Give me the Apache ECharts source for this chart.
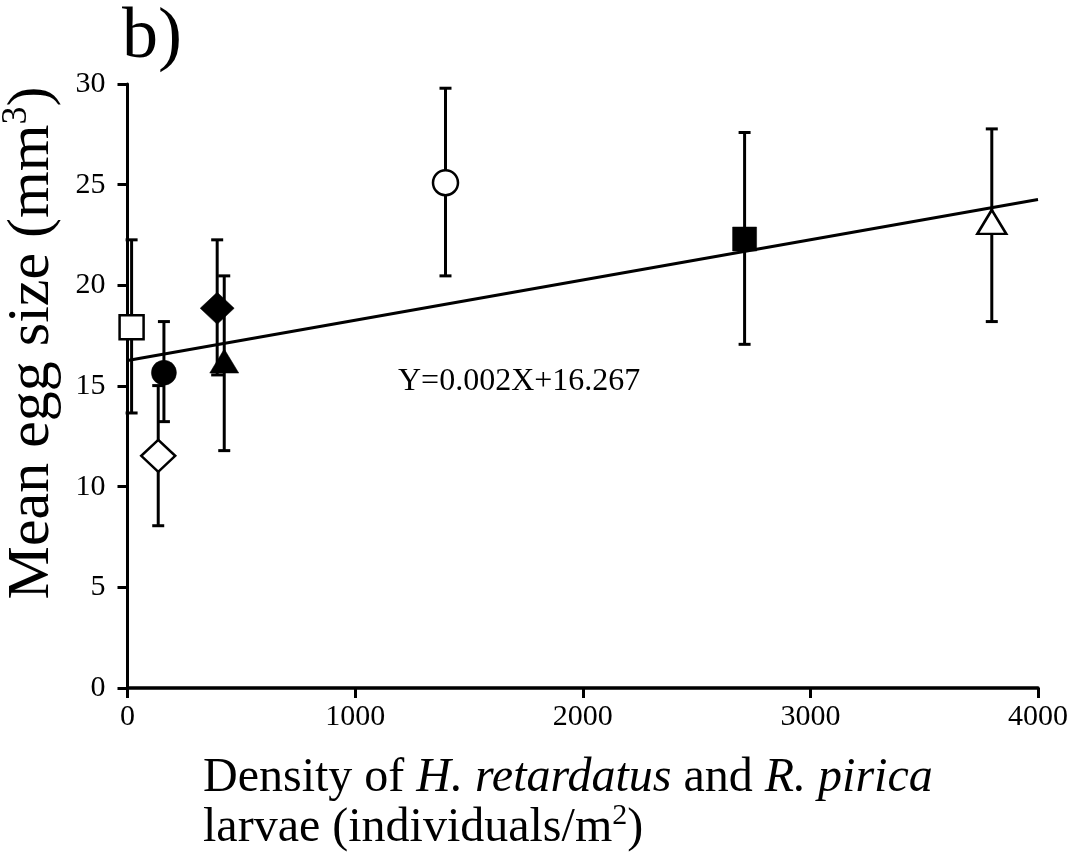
<!DOCTYPE html>
<html><head><meta charset="utf-8">
<script src="https://cdn.jsdelivr.net/npm/echarts@6/dist/echarts.min.js"></script>
<style>html,body{margin:0;padding:0;background:#fff}#c{width:1078px;height:857px}</style>
</head><body><div id="c"></div>
<script>
// ---- data ----
const densities  = [18, 160, 135, 394, 425, 1397, 2711, 3797];
const meanEgg    = [17.92, 15.66, 11.53, 18.86, 16.24, 25.10, 22.30, 23.15];
const errLow     = [13.66, 13.23, 8.06, 15.55, 11.79, 20.47, 17.07, 18.20];
const errHigh    = [22.26, 18.20, 15.02, 22.26, 20.47, 29.79, 27.59, 27.77];
const markerKind = ['rect', 'circle', 'diamond', 'diamond', 'triangle', 'circle', 'rect', 'triangle'];
const markerFill = [false, true, false, true, true, false, true, false];
const trendX = [0, 4000];
const trendY = [16.267, 24.267];
const xTicks = [0, 1000, 2000, 3000, 4000];
const yTicks = [0, 5, 10, 15, 20, 25, 30];
const equationText = 'Y=0.002X+16.267';

// ---- styles ----
const FONT = '"Liberation Serif", "Times New Roman", serif';
const symbolSizes = { rect: 24, circle: 25, diamond: [34, 32], triangle: [29, 24] };

const chart = echarts.init(document.getElementById('c'), null, { renderer: 'canvas' });

const scatterData = densities.map((x, i) => ({
  value: [x, meanEgg[i]],
  symbol: markerKind[i],
  symbolSize: symbolSizes[markerKind[i]],
  itemStyle: {
    color: markerFill[i] ? '#000' : '#fff',
    borderColor: '#000',
    borderWidth: markerFill[i] ? 0.5 : 2.5,
    opacity: 1
  }
}));
const errData = densities.map((x, i) => [x, errLow[i], errHigh[i]]);

const option = {
  animation: false,
  backgroundColor: '#fff',
  grid: { left: 127.5, right: 40, top: 84, bottom: 169, containLabel: false, outerBoundsMode: 'none' },
  xAxis: {
    type: 'value', min: xTicks[0], max: xTicks[xTicks.length - 1], interval: xTicks[1] - xTicks[0],
    splitLine: { show: false },
    axisLine: { show: true, onZero: false, lineStyle: { color: '#000', width: 3.5 } },
    axisTick: { show: true, inside: false, length: 10, lineStyle: { color: '#000', width: 3 } },
    axisLabel: { color: '#000', fontFamily: FONT, fontSize: 30, margin: 14, formatter: v => String(v) }
  },
  yAxis: {
    type: 'value', min: yTicks[0], max: yTicks[yTicks.length - 1], interval: yTicks[1] - yTicks[0],
    splitLine: { show: false },
    axisLine: { show: true, onZero: false, lineStyle: { color: '#000', width: 3 } },
    axisTick: { show: true, inside: false, length: 10, lineStyle: { color: '#000', width: 3 } },
    axisLabel: { color: '#000', fontFamily: FONT, fontSize: 30, margin: 22, formatter: v => String(v) }
  },
  series: [
    {
      type: 'line', data: trendX.map((x, i) => [x, trendY[i]]),
      symbol: 'none', lineStyle: { color: '#000', width: 3, opacity: 1 }, z: 2, silent: true
    },
    {
      type: 'custom', data: errData, z: 3, silent: true,
      renderItem: function (params, api) {
        const x = api.value(0);
        const lo = api.coord([x, api.value(1)]);
        const hi = api.coord([x, api.value(2)]);
        const cw = 6;
        const st = { stroke: '#000', lineWidth: 3 };
        return {
          type: 'group',
          children: [
            { type: 'line', shape: { x1: lo[0], y1: lo[1], x2: hi[0], y2: hi[1] }, style: st },
            { type: 'line', shape: { x1: lo[0] - cw, y1: lo[1], x2: lo[0] + cw, y2: lo[1] }, style: st },
            { type: 'line', shape: { x1: hi[0] - cw, y1: hi[1], x2: hi[0] + cw, y2: hi[1] }, style: st }
          ]
        };
      }
    },
    { type: 'scatter', data: scatterData, z: 4, silent: true, itemStyle: { opacity: 1 } }
  ],
  graphic: [
    {
      type: 'text', left: 122, top: 2,
      style: { text: 'b)', font: '72px ' + FONT, fill: '#000' }
    },
    {
      type: 'text', left: 398, top: 366,
      style: { text: equationText, font: '32px ' + FONT, fill: '#000' }
    },
    {
      type: 'text', x: 32, y: 343, rotation: Math.PI / 2,
      style: {
        text: '{n|Mean egg size (mm}{s|3}{n|)}',
        align: 'center', verticalAlign: 'middle', fill: '#000',
        rich: {
          n: { fontFamily: FONT, fontSize: 60, lineHeight: 66, color: '#000' },
          s: { fontFamily: FONT, fontSize: 36, lineHeight: 66, verticalAlign: 'top', color: '#000' }
        }
      }
    },
    {
      type: 'text', x: 203, y: 778,
      style: {
        text: '{n|Density of }{i|H. retardatus}{n| and }{i|R. pirica}',
        align: 'left', verticalAlign: 'middle', fill: '#000',
        rich: {
          n: { fontFamily: FONT, fontSize: 48, lineHeight: 54, color: '#000' },
          i: { fontFamily: FONT, fontSize: 48, lineHeight: 54, fontStyle: 'italic', color: '#000' }
        }
      }
    },
    {
      type: 'text', x: 203, y: 828,
      style: {
        text: '{n|larvae (individuals/m}{s|2}{n|)}',
        align: 'left', verticalAlign: 'middle', fill: '#000',
        rich: {
          n: { fontFamily: FONT, fontSize: 48, lineHeight: 54, color: '#000' },
          s: { fontFamily: FONT, fontSize: 30, lineHeight: 54, verticalAlign: 'top', color: '#000' }
        }
      }
    }
  ]
};
chart.setOption(option);
</script>
</body></html>
